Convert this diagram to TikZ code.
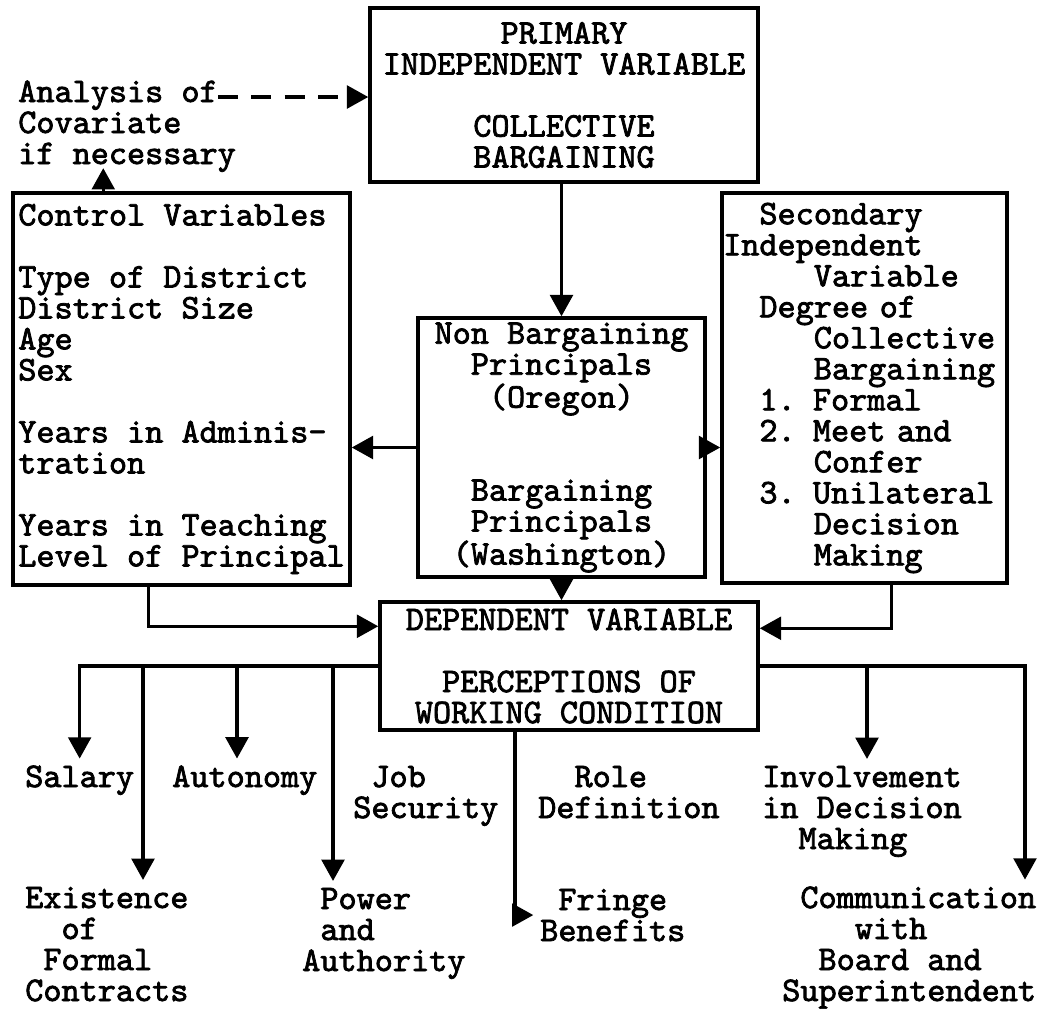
\documentclass[tikz,border=0pt]{standalone}
\usepackage{fontspec}
\newfontfamily\typewr{lmmono10-regular.otf}[FakeBold=2.2]
\usetikzlibrary{arrows.meta,positioning}

\begin{document}
\begin{tikzpicture}[x=0.75pt,y=0.75pt,yscale=-1,xscale=1,
  every node/.style={font=\fontsize{25.9}{23.25}\selectfont\typewr},
  box/.style={draw,line width=2.6pt,inner sep=0pt},
  lbl/.style={inner sep=0pt,align=left},
  arr/.style={line width=2.6pt,-{Triangle[length=16pt,width=17pt]}},
  drop/.style={arr,shorten >=5pt},
  dasharr/.style={arr,dash pattern=on 15pt off 10pt}]
  \useasboundingbox (0,0) rectangle (1043,1008);

  % Boxes
  \node[box,minimum width=291pt,minimum height=130.5pt,align=center] (primary) at (564,95) {PRIMARY\\INDEPENDENT VARIABLE\\[23.25pt]COLLECTIVE\\BARGAINING};
  \node[box,minimum width=252.75pt,minimum height=294pt,align=left] (control) at (181.5,389) {Control Variables\\[23.25pt]Type of District\\District Size\\Age\\Sex\\[23.25pt]Years in Adminis-\\tration\\[23.25pt]Years in Teaching\\Level of Principal};
  \node[box,minimum width=215.25pt,minimum height=194.25pt,align=center] (states) at (561.5,447.5) {Non Bargaining\\Principals\\(Oregon)\\[46.5pt]Bargaining\\Principals\\(Washington)};
  \node[box,minimum width=213.75pt,minimum height=292.5pt,text width=212pt,align=left] (secondary) at (864.5,388) {\phantom{xx}Secondary\\Independent\\\phantom{xxxxx}Variable\\\phantom{xx}Degree of\\\phantom{xxxxx}Collective\\\phantom{xxxxx}Bargaining\\\phantom{xx}1. Formal\\\phantom{xx}2. Meet and\\\phantom{xxxxx}Confer\\\phantom{xx}3. Unilateral\\\phantom{xxxxx}Decision\\\phantom{xxxxx}Making};
  \node[box,minimum width=283.5pt,minimum height=96pt,align=center] (dependent) at (569,666) {DEPENDENT VARIABLE\\[23.25pt]PERCEPTIONS OF\\WORKING CONDITION};

  % Text Node (base = last line)
  \node[lbl,anchor=base west] (covar) at (18,164) {Analysis of\\Covariate\\if necessary};
  % Text Node
  \node[lbl,anchor=base west] (salary) at (25,787) {Salary};
  \node[lbl,anchor=base west] (autonomy) at (172,787) {Autonomy};
  \node[lbl,anchor=base west] (jobsec) at (353,818) {\phantom{x}Job\\Security};
  \node[lbl,anchor=base west] (role) at (538,818) {\phantom{xx}Role\\Definition};
  \node[lbl,anchor=base west] (involve) at (762,849) {Involvement\\in Decision\\\phantom{xx}Making};
  % Text Node
  \node[lbl,anchor=base west] (contracts) at (25,1001) {Existence\\\phantom{xx}of\\\phantom{x}Formal\\Contracts};
  \node[lbl,anchor=base west] (power) at (302,971) {\phantom{x}Power\\\phantom{x}and\\Authority};
  \node[lbl,anchor=base west] (fringe) at (540,941) {\phantom{x}Fringe\\Benefits};
  \node[lbl,anchor=base west] (comm) at (782,1001) {\phantom{x}Communication\\\phantom{xxxx}with\\\phantom{xx}Board and\\Superintendent};

  % branch points
  \coordinate (dA) at ([xshift=150pt,yshift=-50.25pt]covar.base west);
  \coordinate (cv) at ([xshift=69pt]control.north west);
  \coordinate (bl2) at (143,666);
  \coordinate (bl3) at (237,666);
  \coordinate (bl4) at (333,666);
  \coordinate (br5) at (867,666);
  \coordinate (br6) at (1025,666);

  % Arrows
  \draw[dasharr] (dA) -- (dA -| primary.west);
  \draw[arr,shorten >=-3pt] (cv) -- (cv |- covar.south);
  \draw[arr] (states.north |- primary.south) -- (states.north);
  \draw[arr] (states.west) -- (states.west -| control.east);
  \draw[arr] (states.east) -- (states.east -| secondary.west);
  \draw[arr] (states.south) -- (states.south |- dependent.north);
  \draw[arr] ([xshift=103pt]control.south west) |- ([yshift=19.5pt]dependent.north west);
  \draw[arr] ([xshift=128.25pt]secondary.south west) |- ([yshift=21pt]dependent.north east);

  \draw[drop] (dependent.west) -| (salary.north);
  \draw[drop] (bl2) -- (bl2 |- contracts.north);
  \draw[drop] (bl3) -- (bl3 |- autonomy.north);
  \draw[drop] (bl4) -- (bl4 |- power.north);
  \draw[drop] ([xshift=-40.5pt]dependent.south) |- (fringe.west);
  \draw[drop] (dependent.east) -- (br6) -- (br6 |- comm.north);
  \draw[drop] (br5) -- (br5 |- involve.north);
\end{tikzpicture}
\end{document}
